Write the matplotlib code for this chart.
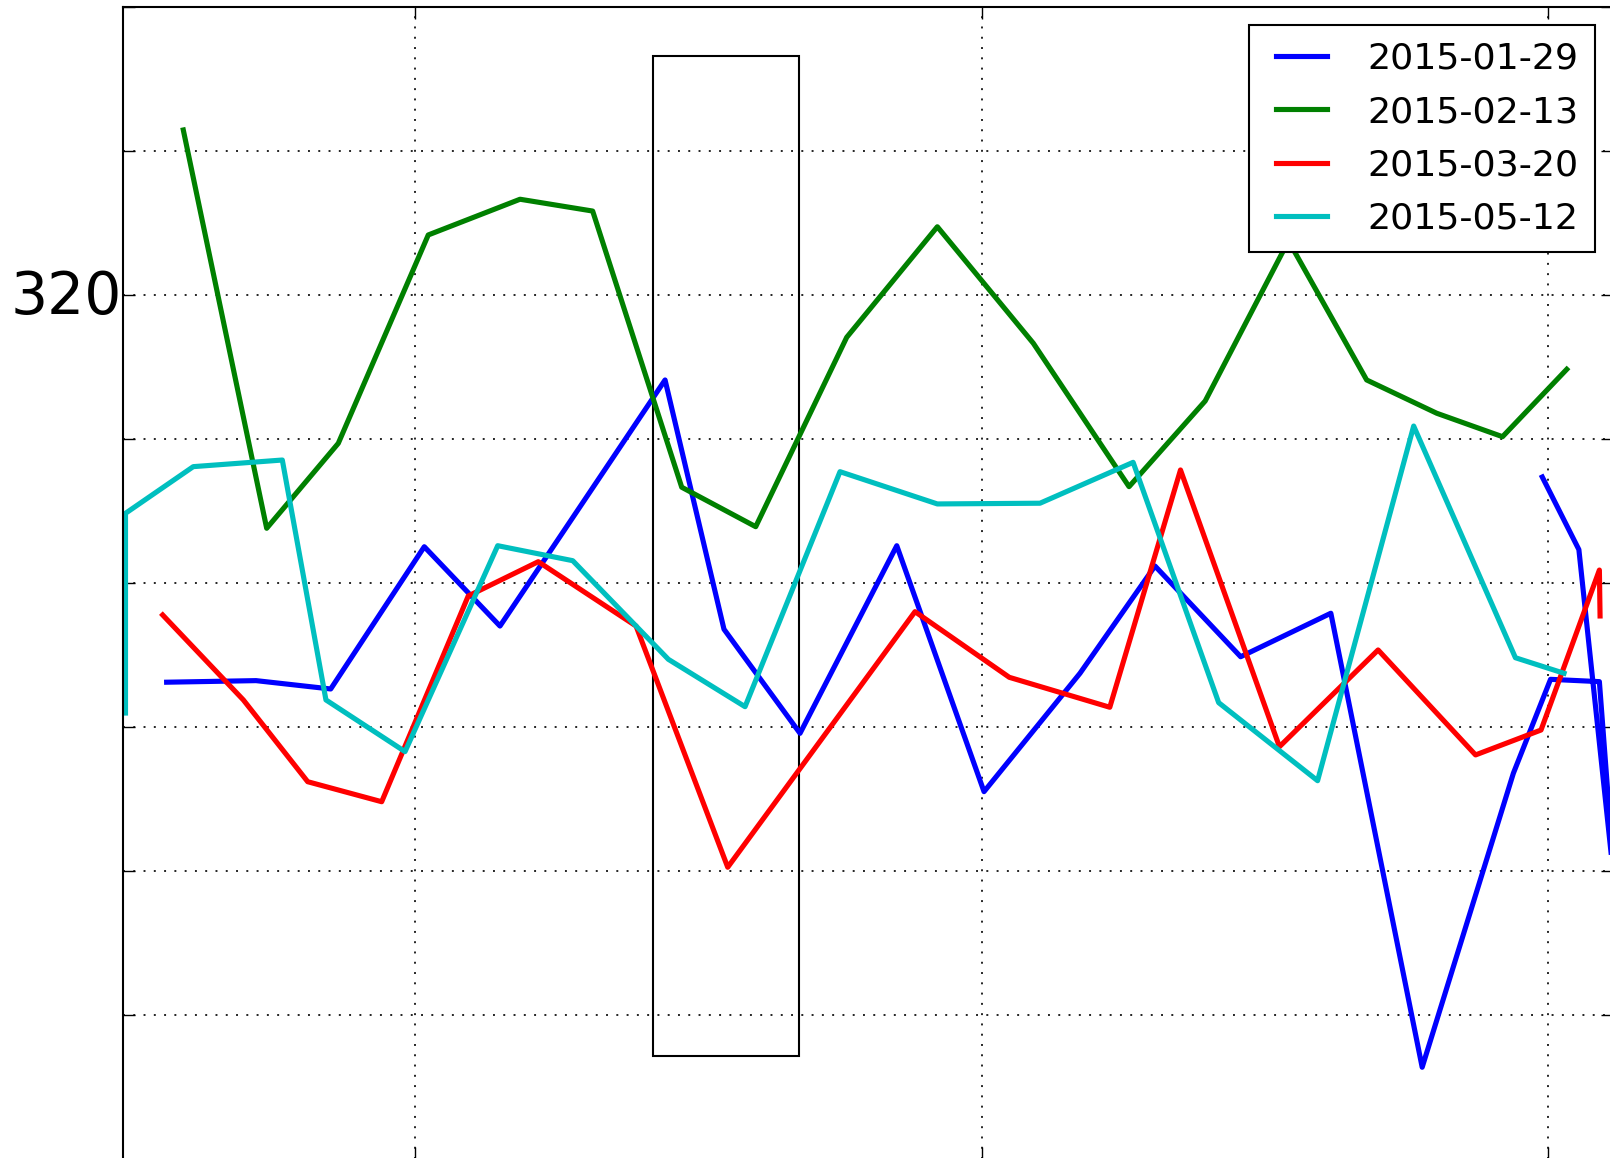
import numpy as np
import matplotlib
matplotlib.use("Agg")
import matplotlib.pyplot as plt
from matplotlib.patches import Rectangle
from matplotlib.transforms import offset_copy

labels = ["2015-01-29", "2015-02-13", "2015-03-20", "2015-05-12"]
colors = ["b", "g", "r", "c"]

# 2015-01-29 (two pieces, split by nan)
x_0129 = [2.808, 3.597, 4.256, 5.082, 5.750, 7.207, 7.727, 8.398, 9.252, 10.022,
          10.869, 11.531, 12.287, 13.083, 13.889, 14.694, 15.022, 15.453, 15.666,
          np.nan, 14.949, 15.272, 15.694]
y_0129 = [317.313, 317.324, 317.266, 318.254, 317.703, 319.412, 317.681, 316.958,
          318.261, 316.553, 317.375, 318.120, 317.490, 317.792, 314.639, 316.681,
          317.333, 317.317, 315.106, np.nan, 318.738, 318.234, 315.106]

x_0213 = [2.955, 3.691, 4.323, 5.117, 5.927, 6.568, 7.354, 8.007, 8.810, 9.610,
          10.457, 11.302, 11.974, 12.709, 13.399, 14.017, 14.598, 15.165]
y_0213 = [321.148, 318.382, 318.972, 320.419, 320.667, 320.585, 318.667, 318.393,
          319.708, 320.476, 319.667, 318.671, 319.266, 320.378, 319.412, 319.181,
          319.018, 319.486]

x_0320 = [2.773, 3.485, 4.053, 4.706, 5.470, 6.088, 6.951, 7.760, 9.413, 10.245,
          11.132, 11.756, 12.629, 13.500, 14.360, 14.938, 15.453, 15.459]
y_0320 = [317.780, 317.190, 316.622, 316.483, 317.912, 318.150, 317.703, 316.028,
          317.803, 317.347, 317.139, 318.787, 316.865, 317.537, 316.808, 316.981,
          318.092, 317.773]

x_0512 = [2.445, 2.445, 3.043, 3.829, 4.214, 4.912, 5.730, 6.392, 7.236, 7.913,
          8.751, 9.610, 10.516, 11.338, 12.093, 12.966, 13.814, 14.712, 15.141]
y_0512 = [317.099, 318.486, 318.810, 318.856, 317.190, 316.831, 318.261, 318.157,
          317.472, 317.143, 318.775, 318.551, 318.556, 318.840, 317.171, 316.629,
          319.092, 317.483, 317.375]

# highlighted window
box_x = [7.103, 8.392]
box_y = [314.717, 321.662]

yticks = [314, 315, 316, 317, 318, 319, 320, 321, 322]
yticklabels = ["", "", "", "", "", "", "320", "", ""]
xticks = [5, 10, 15]

plt.rcParams["lines.scale_dashes"] = False

fig = plt.figure(figsize=(8.05, 5.79), dpi=200)
ax = fig.add_axes([0.0767, -0.0011, 0.9252, 0.9948])

xs = [x_0129, x_0213, x_0320, x_0512]
ys = [y_0129, y_0213, y_0320, y_0512]
for x, y, c, lab in zip(xs, ys, colors, labels):
    ax.plot(x, y, color=c, lw=1.85, label=lab)

ax.add_patch(Rectangle((box_x[0], box_y[0]), box_x[1] - box_x[0], box_y[1] - box_y[0],
                       fill=False, edgecolor="k", lw=0.75))

ax.set_xlim(2.4272, 15.5737)
ax.set_ylim(314, 322)
ax.set_yticks(yticks)
ax.set_yticklabels(yticklabels)
ax.set_xticks(xticks)
ax.set_xticklabels([])

ax.tick_params(direction="in", length=4.3, width=0.5, top=True, right=True,
               labelsize=21, pad=0.6)
for t in ax.get_yticklabels():
    t.set_transform(offset_copy(t.get_transform(), fig=fig, y=1.5, units="points"))

ax.grid(True, color="k", linestyle=(0, (0.7, 3.0)), linewidth=0.6)
for s in ax.spines.values():
    s.set_linewidth(0.75)

leg = ax.legend(loc="upper right", fontsize=13.1, fancybox=False, numpoints=2,
                borderpad=0.45, labelspacing=0.53, handlelength=2.0,
                handletextpad=0.8, borderaxespad=0.5)
leg.get_frame().set_edgecolor("k")
leg.get_frame().set_linewidth(0.75)
leg.get_frame().set_alpha(1)

fig.savefig("out.png", dpi=200)
